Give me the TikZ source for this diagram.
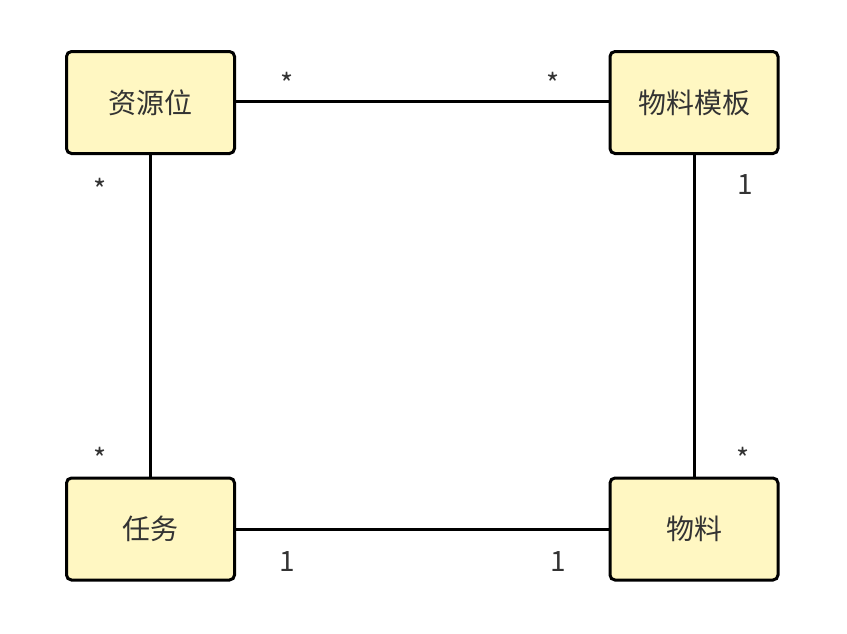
\documentclass[tikz,border=0pt]{standalone}
\usepackage{fontspec}
\setmainfont{Noto Sans CJK SC}
\definecolor{boxfill}{HTML}{FFF7C2}
\begin{document}
\begin{tikzpicture}[x=1pt,y=-1pt,
  cls/.style={draw=black,line width=3pt,fill=boxfill,rounded corners=5pt,minimum width=168pt,minimum height=102pt,font=\fontsize{28}{32}\selectfont,text=black!80},
  conn/.style={line width=3pt},
  mult/.style={font=\fontsize{28}{32}\selectfont,text=black!80}]
\useasboundingbox (0,0) rectangle (847,633);
\node[cls] (zyw) at (150.5,102.5) {资源位};
\node[cls] (wlmb) at (694,102.5) {物料模板};
\node[cls] (rw) at (150.5,529) {任务};
\node[cls] (wl) at (694,529) {物料};
\draw[conn] (zyw.east|-0,101) -- (wlmb.west|-0,101);
\draw[conn] (zyw.south) -- (rw.north);
\draw[conn] (wlmb.south) -- (wl.north);
\draw[conn] (rw.east|-0,529) -- (wl.west|-0,529);
\node[mult] (m1) at (287,83) {*};
\node[mult] (m2) at (553,83) {*};
\node[mult] (m3) at (100,189) {*};
\node[mult] (m4) at (100,458) {*};
\node[mult] (m5) at (743,458) {*};
\node[mult] (m6) at (745,185) {1};
\node[mult] (m7) at (287,562) {1};
\node[mult] (m8) at (558,562) {1};
\end{tikzpicture}
\end{document}
